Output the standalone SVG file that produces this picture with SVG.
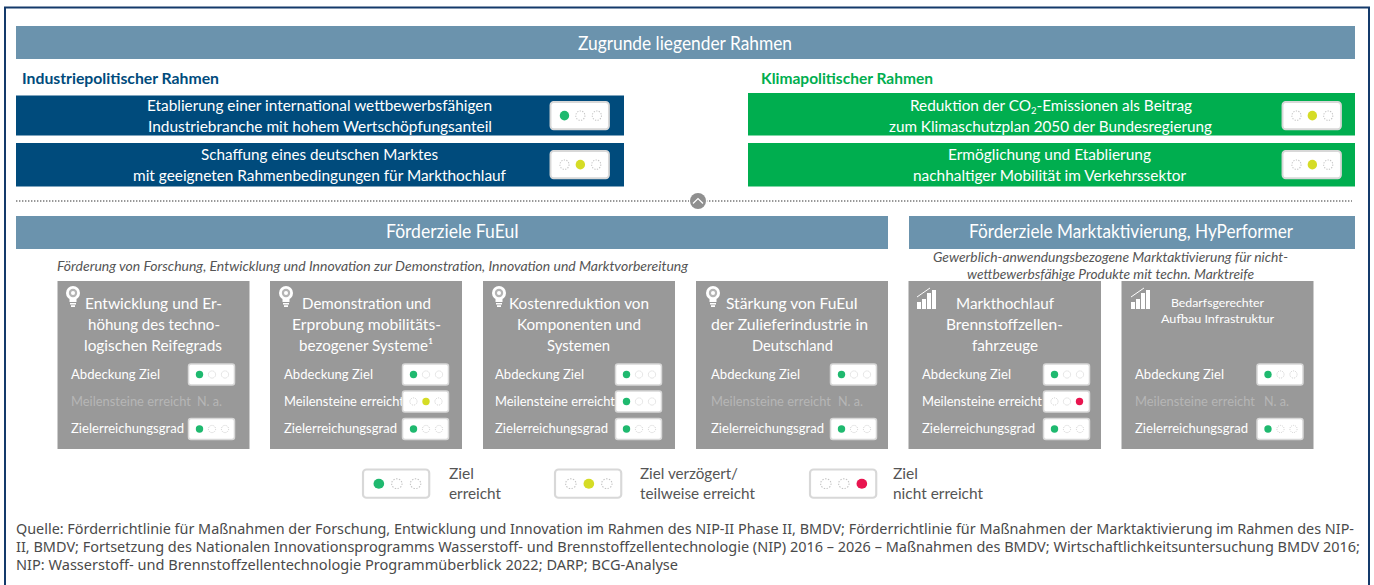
<svg xmlns="http://www.w3.org/2000/svg" xmlns:xlink="http://www.w3.org/1999/xlink" width="1374" height="585" viewBox="0 0 1374 585">
<style>
text{font-family:"Lato","Noto Sans","Liberation Sans",sans-serif;fill:#fff}
.h{font-size:18.5px}
.r{font-size:15.500px}
.t{font-size:15.500px}
.l{font-size:14px}
.m{fill:#b6b6b6;font-size:13px}
.i{font-size:14px;font-style:italic;fill:#555}
.k{font-size:15px;font-weight:700}
.g{font-size:14.500px;fill:#555}
.q{font-size:14px;fill:#4a4a4a;font-family:"Noto Sans","Liberation Sans",sans-serif}
.bar{fill:#6b93ad}
.card{fill:#999}
.bb{fill:#fff;stroke:#d8d8d8;stroke-width:1.500}
.e{fill:#fff;stroke:#c4c4c4;stroke-width:.8;stroke-dasharray:1 1}
.ic{fill:#fff}
.icl{fill:none;stroke:#fff;stroke-width:1}
</style>
<defs>
<rect id="bx" x="0" y="0" width="46" height="21" rx="2.500" class="bb"/>
<g id="bG"><use xlink:href="#bx"/><circle cx="11" cy="10.500" r="3.700" fill="#1fb96f"/><circle cx="23.500" cy="10.500" r="3.600" class="e"/><circle cx="36.500" cy="10.500" r="3.600" class="e"/></g>
<g id="bY"><use xlink:href="#bx"/><circle cx="11" cy="10.500" r="3.600" class="e"/><circle cx="23.500" cy="10.500" r="3.700" fill="#d5dc26"/><circle cx="36" cy="10.500" r="3.600" class="e"/></g>
<g id="bR"><use xlink:href="#bx"/><circle cx="11" cy="10.500" r="3.600" class="e"/><circle cx="23.500" cy="10.500" r="3.600" class="e"/><circle cx="36" cy="10.500" r="3.700" fill="#e8154f"/></g>
<g id="bulb"><circle cx="0" cy="0" r="7" class="ic"/><circle cx="0" cy="0" r="4.200" fill="#b5b5b5"/><circle cx="0" cy="0" r="2" class="ic"/><path d="M-3.500 6H3.500V9H-3.500Z" class="ic"/><path d="M-3 10H3V11.500H-3ZM-2 12.300H2V14H-2Z" class="ic"/></g>
<g id="chart"><path d="M0 11H4V4H0ZM5 11H9V1H5ZM10 11H14V-5H10ZM15 11H19V-8H15Z" class="ic"/><path d="M0 -1L13 -10" class="icl"/></g>
</defs>
<rect width="1374" height="585" fill="#fff"/>
<rect x="5" y="7.500" width="1364" height="580" fill="none" stroke="#143a6b" stroke-width="2"/>

<g id="header-top"><rect class="bar" x="16" y="26" width="1339" height="33"/><text class="h" x="578" y="50" textLength="214" lengthAdjust="spacingAndGlyphs">Zugrunde liegender Rahmen</text></g>

<g id="label-industrie"><text class="k" x="22" y="84" textLength="197" lengthAdjust="spacingAndGlyphs" style="fill:#004b7c">Industriepolitischer Rahmen</text></g>
<g id="label-klima"><text class="k" x="761" y="84" textLength="172" lengthAdjust="spacingAndGlyphs" style="fill:#00ae4f">Klimapolitischer Rahmen</text></g>

<g id="ind-1"><rect x="16" y="95.500" width="608" height="40" fill="#004b7c"/>
<text class="r" x="147" y="111" textLength="345" lengthAdjust="spacingAndGlyphs">Etablierung einer international wettbewerbsfähigen</text>
<text class="r" x="148" y="132" textLength="344" lengthAdjust="spacingAndGlyphs">Industriebranche mit hohem Wertschöpfungsanteil</text>
<use xlink:href="#bG" transform="translate(550.500 102) scale(1.270 1.300)"/></g>
<g id="ind-2"><rect x="16" y="143" width="608" height="43.500" fill="#004b7c"/>
<text class="r" x="201" y="160" textLength="237" lengthAdjust="spacingAndGlyphs">Schaffung eines deutschen Marktes</text>
<text class="r" x="133" y="181" textLength="373" lengthAdjust="spacingAndGlyphs">mit geeigneten Rahmenbedingungen für Markthochlauf</text>
<use xlink:href="#bY" transform="translate(550.500 151) scale(1.270 1.300)"/></g>
<g id="klima-1"><rect x="748" y="93" width="607" height="42.500" fill="#00ae4f"/>
<text class="r" x="910" y="111" textLength="282" lengthAdjust="spacingAndGlyphs">Reduktion der CO<tspan font-size="9.500" dy="3">2</tspan><tspan dy="-3">-Emissionen als Beitrag</tspan></text>
<text class="r" x="889" y="132" textLength="323" lengthAdjust="spacingAndGlyphs">zum Klimaschutzplan 2050 der Bundesregierung</text>
<use xlink:href="#bY" transform="translate(1282.500 102) scale(1.270 1.300)"/></g>
<g id="klima-2"><rect x="748" y="143" width="607" height="43.500" fill="#00ae4f"/>
<text class="r" x="948" y="160" textLength="203" lengthAdjust="spacingAndGlyphs">Ermöglichung und Etablierung</text>
<text class="r" x="913" y="181" textLength="273" lengthAdjust="spacingAndGlyphs">nachhaltiger Mobilität im Verkehrssektor</text>
<use xlink:href="#bY" transform="translate(1282.500 151) scale(1.270 1.300)"/></g>

<g id="connectors"><path d="M16 201H1352" fill="none" stroke="#777" stroke-width="1.400" stroke-dasharray="1.400 1.600"/></g>
<g id="toggle"><circle cx="698" cy="201" r="9" fill="#fff"/><circle cx="698" cy="201" r="8" fill="#8f8f8f"/><path d="M693 203.500L698 198.500L703 203.500" fill="none" stroke="#fff" stroke-width="1.200"/></g>

<g id="header-fueui"><rect class="bar" x="16" y="216" width="872" height="33"/><text class="h" x="386" y="238" textLength="133" lengthAdjust="spacingAndGlyphs">Förderziele FuEuI</text></g>
<g id="header-markt"><rect class="bar" x="909" y="216" width="446" height="33"/><text class="h" x="969" y="238" textLength="324" lengthAdjust="spacingAndGlyphs">Förderziele Marktaktivierung, HyPerformer</text></g>

<g id="desc-fueui"><text class="i" x="57" y="271" textLength="631" lengthAdjust="spacingAndGlyphs">Förderung von Forschung, Entwicklung und Innovation zur Demonstration, Innovation und Marktvorbereitung</text></g>
<g id="desc-markt"><text class="i" x="933" y="262" textLength="355" lengthAdjust="spacingAndGlyphs">Gewerblich-anwendungsbezogene Marktaktivierung für nicht-</text>
<text class="i" x="967" y="279" textLength="287" lengthAdjust="spacingAndGlyphs">wettbewerbsfähige Produkte mit techn. Marktreife</text></g>

<g id="card-1"><rect class="card" x="57.500" y="281" width="192" height="168"/><use xlink:href="#bulb" x="73" y="293"/>
<text class="t" x="85" y="309" textLength="137" lengthAdjust="spacingAndGlyphs">Entwicklung und Er-</text>
<text class="t" x="88" y="330" textLength="132" lengthAdjust="spacingAndGlyphs">höhung des techno-</text>
<text class="t" x="84" y="351" textLength="138" lengthAdjust="spacingAndGlyphs">logischen Reifegrads</text>
<text class="l" x="71" y="379" textLength="89" lengthAdjust="spacingAndGlyphs">Abdeckung Ziel</text><use xlink:href="#bG" x="188.500" y="364"/>
<text class="l m" x="71" y="406" textLength="120" lengthAdjust="spacingAndGlyphs">Meilensteine erreicht</text><text class="l m" x="197" y="406" textLength="25" lengthAdjust="spacingAndGlyphs">N. a.</text>
<text class="l" x="71" y="433" textLength="113" lengthAdjust="spacingAndGlyphs">Zielerreichungsgrad</text><use xlink:href="#bG" x="188.500" y="418.500"/></g>

<g id="card-2"><rect class="card" x="270" y="281" width="192" height="168"/><use xlink:href="#bulb" x="286" y="293"/>
<text class="t" x="302" y="309" textLength="129" lengthAdjust="spacingAndGlyphs">Demonstration und</text>
<text class="t" x="292" y="330" textLength="149" lengthAdjust="spacingAndGlyphs">Erprobung mobilitäts-</text>
<text class="t" x="299" y="351" textLength="134" lengthAdjust="spacingAndGlyphs">bezogener Systeme¹</text>
<text class="l" x="284" y="379" textLength="89" lengthAdjust="spacingAndGlyphs">Abdeckung Ziel</text><use xlink:href="#bG" x="402.500" y="364"/>
<text class="l" x="284" y="406" textLength="120" lengthAdjust="spacingAndGlyphs">Meilensteine erreicht</text><use xlink:href="#bY" x="402.500" y="391"/>
<text class="l" x="284" y="433" textLength="113" lengthAdjust="spacingAndGlyphs">Zielerreichungsgrad</text><use xlink:href="#bG" x="402.500" y="418.500"/></g>

<g id="card-3"><rect class="card" x="483" y="281" width="192" height="168"/><use xlink:href="#bulb" x="499" y="293"/>
<text class="t" x="509" y="309" textLength="140" lengthAdjust="spacingAndGlyphs">Kostenreduktion von</text>
<text class="t" x="517" y="330" textLength="124" lengthAdjust="spacingAndGlyphs">Komponenten und</text>
<text class="t" x="547" y="351" textLength="63" lengthAdjust="spacingAndGlyphs">Systemen</text>
<text class="l" x="495" y="379" textLength="89" lengthAdjust="spacingAndGlyphs">Abdeckung Ziel</text><use xlink:href="#bG" x="615.500" y="364"/>
<text class="l" x="495" y="406" textLength="120" lengthAdjust="spacingAndGlyphs">Meilensteine erreicht</text><use xlink:href="#bG" x="615.500" y="391"/>
<text class="l" x="495" y="433" textLength="113" lengthAdjust="spacingAndGlyphs">Zielerreichungsgrad</text><use xlink:href="#bG" x="615.500" y="418.500"/></g>

<g id="card-4"><rect class="card" x="696" y="281" width="192" height="168"/><use xlink:href="#bulb" x="713" y="293"/>
<text class="t" x="726" y="309" textLength="132" lengthAdjust="spacingAndGlyphs">Stärkung von FuEuI</text>
<text class="t" x="711" y="330" textLength="157" lengthAdjust="spacingAndGlyphs">der Zulieferindustrie in</text>
<text class="t" x="752" y="351" textLength="81" lengthAdjust="spacingAndGlyphs">Deutschland</text>
<text class="l" x="711" y="379" textLength="89" lengthAdjust="spacingAndGlyphs">Abdeckung Ziel</text><use xlink:href="#bG" x="830.500" y="364"/>
<text class="l m" x="711" y="406" textLength="120" lengthAdjust="spacingAndGlyphs">Meilensteine erreicht</text><text class="l m" x="838" y="406" textLength="25" lengthAdjust="spacingAndGlyphs">N. a.</text>
<text class="l" x="711" y="433" textLength="113" lengthAdjust="spacingAndGlyphs">Zielerreichungsgrad</text><use xlink:href="#bG" x="830.500" y="418.500"/></g>

<g id="card-5"><rect class="card" x="908.500" y="281" width="192.500" height="168"/><use xlink:href="#chart" x="917" y="298"/>
<text class="t" x="956" y="309" textLength="98" lengthAdjust="spacingAndGlyphs">Markthochlauf</text>
<text class="t" x="946" y="330" textLength="117" lengthAdjust="spacingAndGlyphs">Brennstoffzellen-</text>
<text class="t" x="972" y="351" textLength="66" lengthAdjust="spacingAndGlyphs">fahrzeuge</text>
<text class="l" x="922" y="379" textLength="89" lengthAdjust="spacingAndGlyphs">Abdeckung Ziel</text><use xlink:href="#bG" x="1043.500" y="364"/>
<text class="l" x="922" y="406" textLength="120" lengthAdjust="spacingAndGlyphs">Meilensteine erreicht</text><use xlink:href="#bR" x="1043.500" y="391"/>
<text class="l" x="922" y="433" textLength="113" lengthAdjust="spacingAndGlyphs">Zielerreichungsgrad</text><use xlink:href="#bG" x="1043.500" y="418.500"/></g>

<g id="card-6"><rect class="card" x="1121.500" y="281" width="192" height="168"/><use xlink:href="#chart" x="1131" y="298"/>
<text class="l" style="font-size:12px" x="1171" y="307" textLength="93" lengthAdjust="spacingAndGlyphs">Bedarfsgerechter</text>
<text class="l" style="font-size:12px" x="1161" y="323" textLength="113" lengthAdjust="spacingAndGlyphs">Aufbau Infrastruktur</text>
<text class="l" x="1135" y="379" textLength="89" lengthAdjust="spacingAndGlyphs">Abdeckung Ziel</text><use xlink:href="#bG" x="1257" y="364"/>
<text class="l m" x="1135" y="406" textLength="120" lengthAdjust="spacingAndGlyphs">Meilensteine erreicht</text><text class="l m" x="1264" y="406" textLength="25" lengthAdjust="spacingAndGlyphs">N. a.</text>
<text class="l" x="1135" y="433" textLength="113" lengthAdjust="spacingAndGlyphs">Zielerreichungsgrad</text><use xlink:href="#bG" x="1257" y="418.500"/></g>

<g id="legend-green"><use xlink:href="#bG" transform="translate(363 469.500) scale(1.440 1.350)"/><text class="g" x="449" y="479" textLength="25" lengthAdjust="spacingAndGlyphs">Ziel</text><text class="g" x="449" y="499" textLength="52" lengthAdjust="spacingAndGlyphs">erreicht</text></g>
<g id="legend-yellow"><use xlink:href="#bY" transform="translate(555 469.500) scale(1.440 1.350)"/><text class="g" x="640" y="479" textLength="98" lengthAdjust="spacingAndGlyphs">Ziel verzögert/</text><text class="g" x="640" y="499" textLength="115" lengthAdjust="spacingAndGlyphs">teilweise erreicht</text></g>
<g id="legend-red"><use xlink:href="#bR" transform="translate(810 469.500) scale(1.440 1.350)"/><text class="g" x="893" y="479" textLength="25" lengthAdjust="spacingAndGlyphs">Ziel</text><text class="g" x="893" y="499" textLength="90" lengthAdjust="spacingAndGlyphs">nicht erreicht</text></g>

<g id="source">
<text class="q" x="16" y="534" textLength="1338" lengthAdjust="spacingAndGlyphs">Quelle: Förderrichtlinie für Maßnahmen der Forschung, Entwicklung und Innovation im Rahmen des NIP-II Phase II, BMDV; Förderrichtlinie für Maßnahmen der Marktaktivierung im Rahmen des NIP-</text>
<text class="q" x="16" y="552" textLength="1344" lengthAdjust="spacingAndGlyphs">II, BMDV; Fortsetzung des Nationalen Innovationsprogramms Wasserstoff- und Brennstoffzellentechnologie (NIP) 2016 – 2026 – Maßnahmen des BMDV; Wirtschaftlichkeitsuntersuchung BMDV 2016;</text>
<text class="q" x="16" y="570" textLength="662" lengthAdjust="spacingAndGlyphs">NIP: Wasserstoff- und Brennstoffzellentechnologie Programmüberblick 2022; DARP; BCG-Analyse</text>
</g>
</svg>
